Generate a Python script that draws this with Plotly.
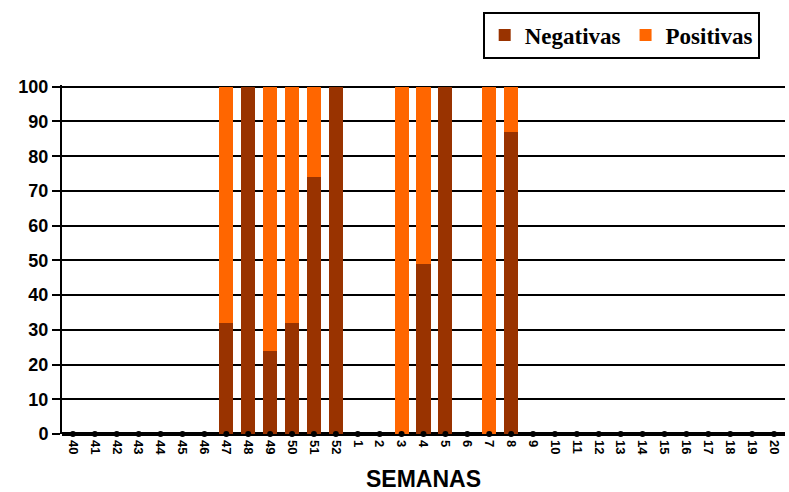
import plotly.graph_objects as go

semanas = [str(w) for w in list(range(40, 53)) + list(range(1, 21))]
negativas = {"47": 32, "48": 100, "49": 24, "50": 32, "51": 74, "52": 100,
             "4": 49, "5": 100, "8": 87}
positivas = {"47": 68, "49": 76, "50": 68, "51": 26, "3": 100, "4": 51,
             "7": 100, "8": 13}

neg_vals = [negativas.get(s, 0) for s in semanas]
pos_vals = [positivas.get(s, 0) for s in semanas]

fig = go.Figure()
fig.add_trace(go.Bar(x=semanas, y=neg_vals, name="Negativas",
                     marker=dict(color="#993300", line=dict(width=0))))
fig.add_trace(go.Bar(x=semanas, y=pos_vals, name="Positivas",
                     marker=dict(color="#FF6600", line=dict(width=0))))
fig.add_trace(go.Scatter(x=semanas, y=[0] * len(semanas), mode="markers",
                         marker=dict(color="black", size=6),
                         showlegend=False, hoverinfo="skip", cliponaxis=False))

fig.update_layout(
    barmode="stack",
    bargap=0.36,
    width=789, height=492,
    margin=dict(l=62, r=4, t=85, b=58, autoexpand=False),
    paper_bgcolor="white", plot_bgcolor="white",
    font=dict(family="Arial, Liberation Sans", color="black"),
    legend=dict(orientation="h", x=0.965, xanchor="right", y=1.143, yanchor="middle",
                bordercolor="black", borderwidth=2, bgcolor="white",
                font=dict(family="Liberation Serif, Times New Roman", size=23,
                          color="black", weight="bold"),
                itemwidth=30, traceorder="normal"),
    xaxis=dict(type="category", range=[-0.5, len(semanas) - 0.5], automargin=False,
               tickangle=90, tickfont=dict(size=13, weight="bold"),
               ticklabelstandoff=5,
               showgrid=False, showline=False, ticks="", zeroline=False,
               title=dict(text="<b>SEMANAS</b>", font=dict(size=23), standoff=20)),
    yaxis=dict(range=[0, 100.5], dtick=10, showgrid=True, gridcolor="black", gridwidth=1.5,
               automargin=False,
               showline=True, linecolor="black", linewidth=2, ticks="outside",
               ticklen=8, tickcolor="black", tickwidth=1.5,
               tickfont=dict(size=18, weight="bold"),
               zeroline=True, zerolinecolor="black", zerolinewidth=4),
)
fig.write_html("out.html", config={"displayModeBar": False},
               post_script="document.body.style.margin='0';document.body.style.overflow='hidden';")
